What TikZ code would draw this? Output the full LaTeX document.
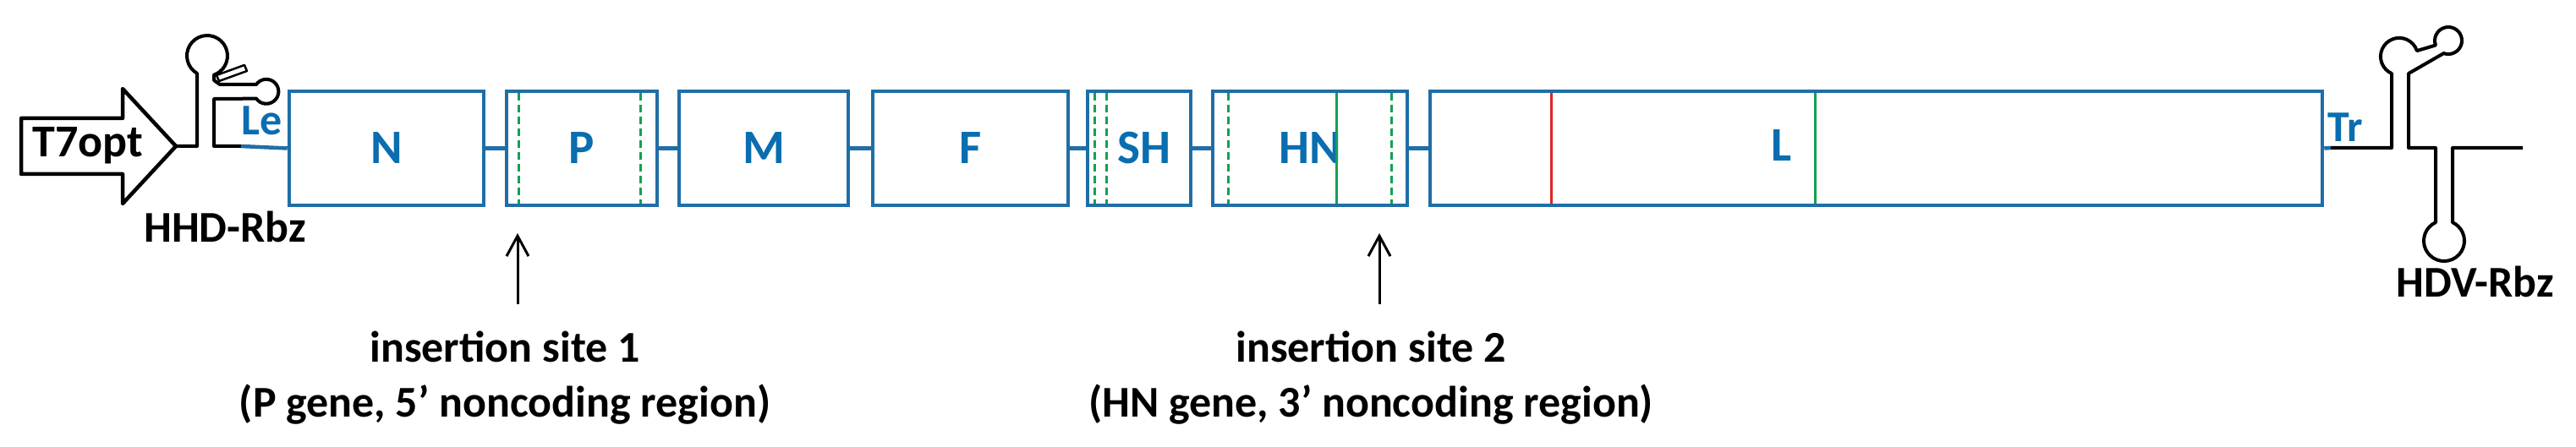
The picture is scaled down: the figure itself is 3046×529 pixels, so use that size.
\documentclass[tikz,border=0pt]{standalone}
\usepackage{fontspec}
\setmainfont{Carlito}
\usetikzlibrary{arrows.meta}
\definecolor{bl}{HTML}{1F6EA6}
\definecolor{blt}{HTML}{0A6DB0}
\definecolor{gr}{HTML}{12A150}
\definecolor{rd}{HTML}{E02424}
\begin{document}
\begin{tikzpicture}[x=1pt,y=-1pt,
  box/.style={draw=bl,line width=4.5pt,rectangle,inner sep=0pt,minimum height=135pt,text=blt,font=\fontsize{57}{60}\selectfont\bfseries},
  bb/.style={draw=bl,line width=4.5pt},
  blk/.style={draw=black,line width=4pt,line join=round},
  gd/.style={draw=gr,line width=3pt,dash pattern=on 9pt off 5pt},
  gs/.style={draw=gr,line width=3pt},
  lab/.style={font=\fontsize{52}{60}\selectfont\bfseries,inner sep=0pt},
  ins/.style={draw=black,line width=3pt,-{Straight Barb[length=24pt,width=26pt,line width=3pt]}}]
\useasboundingbox (0,0) rectangle (3046,529);
% gene boxes
\node[box,minimum width=230pt] (N) at (457,175.5) {N};
\node[box,minimum width=178pt] (P) at (688,175.5) {P};
\node[box,minimum width=200pt] (M) at (903,175.5) {M};
\node[box,minimum width=231pt] (F) at (1147.5,175.5) {F};
\node[box,minimum width=122pt] (SH) at (1347,175.5) {\hspace*{12pt}SH};
\node[box,minimum width=230pt] (HN) at (1549,175.5) {HN};
\node[box,minimum width=1055pt] (L) at (2218.5,175.5) {};
\node[text=blt,font=\fontsize{57}{60}\selectfont\bfseries,inner sep=0pt] (Ll) at (2107,172) {L};
% backbone
\draw[bb] (N.east) -- (P.west);
\draw[bb] (P.east) -- (M.west);
\draw[bb] (M.east) -- (F.west);
\draw[bb] (F.east) -- (SH.west);
\draw[bb] (SH.east) -- (HN.west);
\draw[bb] (HN.east) -- (L.west);
% markers
\draw[gd] (613,110) -- (613,241);
\draw[gd] (757,110) -- (757,241);
\draw[gd] (1294,110) -- (1294,241);
\draw[gd] (1308,110) -- (1308,241);
\draw[gd] (1452,110) -- (1452,241);
\draw[gd] (1645,110) -- (1645,241);
\draw[gs] (1580,110) -- (1580,241);
\draw[draw=rd,line width=3pt] (1834,110) -- (1834,241);
\draw[gs] (2146,110) -- (2146,241);
% T7 promoter
\draw[blk,line width=4.5pt] (25,140) -- (145,140) -- (145,105) -- (208,173) -- (145,241) -- (145,206) -- (25,206) -- cycle;
\node[font=\fontsize{54}{60}\selectfont\bfseries,anchor=base,inner sep=0pt] (T7) at (104,186) {T7opt};
% HHD ribozyme
\coordinate (le0) at (285,173);
\draw[blk] (208,173) -- (233,173) -- (233,86.8) arc[start angle=120,end angle=430.5,radius=24] -- (253,95) -- (260,100) -- (303,100)
  arc[start angle=215,end angle=505,radius=14.5] -- (253,117) -- (253,173) -- (le0);
\draw[black,line width=2.5pt,line join=round] (256,89) -- (289,77) -- (292,84) -- (259,96) -- cycle;
\draw[bb] (le0) -- (N.west);
\node[lab,text=blt,anchor=base west] (Le) at (285,160) {Le};
\node[lab,anchor=base east] (HHD) at (362,287) {HHD-Rbz};
% HDV ribozyme
\coordinate (tr0) at (2756,175);
\draw[bb] (L.east) -- (tr0);
\node[lab,text=blt,anchor=base west] (Tr) at (2752,168) {Tr};
\draw[blk] (tr0) -- (2828,175) -- (2828,87)
  arc[start angle=114,end angle=342,radius=22] -- (2880,53.5)
  arc[start angle=160,end angle=470,radius=16] -- (2848,87) -- (2848,175) -- (2880,175) -- (2880,263.2)
  arc[start angle=245.4,end angle=-65.4,radius=24] -- (2900,175) -- (2983,175);
\node[lab,anchor=base east] (HDV) at (3020,351) {HDV-Rbz};
% insertion sites
\coordinate (a1) at (612,360);
\coordinate (a1t) at (612,276);
\draw[ins] (a1) -- (a1t);
\node[lab,anchor=base] (s1a) at (597,428) {insertion site 1};
\node[lab,anchor=base] (s1b) at (597,493) {(P gene, 5' noncoding region)};
\coordinate (a2) at (1631,360);
\coordinate (a2t) at (1631,276);
\draw[ins] (a2) -- (a2t);
\node[lab,anchor=base] (s2a) at (1621,428) {insertion site 2};
\node[lab,anchor=base] (s2b) at (1621,493) {(HN gene, 3' noncoding region)};
\end{tikzpicture}
\end{document}
